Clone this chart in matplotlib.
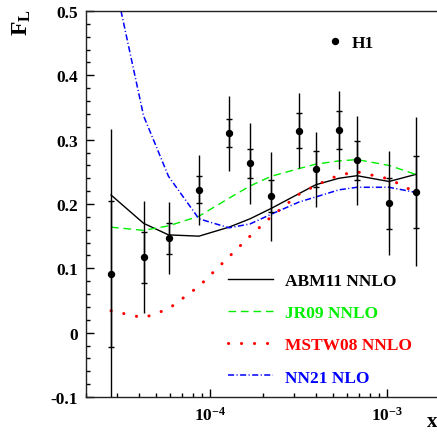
import numpy as np
import matplotlib
matplotlib.use("Agg")
import matplotlib.pyplot as plt
from matplotlib.ticker import FixedLocator, NullFormatter, MultipleLocator
from matplotlib.lines import Line2D

plt.rcParams['font.family'] = ['Liberation Serif', 'DejaVu Serif']
plt.rcParams['font.weight'] = 'bold'
plt.rcParams['mathtext.fontset'] = 'custom'
plt.rcParams['mathtext.bf'] = 'Liberation Serif:bold'
plt.rcParams['mathtext.rm'] = 'Liberation Serif:bold'
plt.rcParams['mathtext.it'] = 'Liberation Serif:bold'

# ---- data ----
x = [2.77e-5, 4.23e-5, 5.85e-5, 8.69e-5, 1.285e-4, 1.69e-4, 2.22e-4,
     3.19e-4, 3.98e-4, 5.37e-4, 6.79e-4, 1.03e-3, 1.46e-3]
fl = [0.091, 0.117, 0.147, 0.222, 0.310, 0.263, 0.212, 0.314, 0.254,
      0.315, 0.268, 0.201, 0.219]
stat = [0.114, 0.040, 0.024, 0.021, 0.022, 0.023, 0.025, 0.027, 0.028,
        0.029, 0.030, 0.040, 0.056]
tot = [0.225, 0.087, 0.056, 0.054, 0.058, 0.063, 0.069, 0.058, 0.058,
       0.061, 0.069, 0.081, 0.116]
abm11 = [0.214, 0.170, 0.152, 0.150, 0.164, 0.177, 0.193, 0.216, 0.230,
         0.240, 0.244, 0.235, 0.246]
jr09 = [0.164, 0.159, 0.166, 0.181, 0.209, 0.228, 0.243, 0.255, 0.262,
        0.267, 0.269, 0.260, 0.246]
mstw08 = [0.034, 0.023, 0.037, 0.072, 0.118, 0.150, 0.180, 0.215, 0.229,
          0.245, 0.250, 0.239, 0.218]
nn21 = [0.572, 0.337, 0.243, 0.177, 0.163, 0.169, 0.184, 0.203, 0.211,
        0.222, 0.226, 0.226, 0.218]
labels = ['ABM11 NNLO', 'JR09 NNLO', 'MSTW08 NNLO', 'NN21 NLO']
colors = ['black', '#00ee00', '#ff0000', '#0000ff']

fig = plt.figure(figsize=(4.37, 4.35), dpi=100)
W, H = 437, 435
ax = fig.add_axes([86 / W, (H - 398) / H, (440 - 86) / W, (398 - 12) / H])
ax.set_xscale('log')
ax.set_xlim(2e-5, 2e-3)
ax.set_ylim(-0.1, 0.5)

l1, = ax.plot(x, abm11, color=colors[0], lw=1.0, solid_joinstyle='miter')
l2, = ax.plot(x, jr09, color=colors[1], lw=1.0, linestyle=(0, (5.5, 3.5)))
l3, = ax.plot(x, mstw08, color=colors[2], lw=2.2, linestyle=(0, (0.05, 4.2)),
              dash_capstyle='round')
l4, = ax.plot(x, nn21, color=colors[3], lw=1.1,
              linestyle=(0, (4.0, 1.6, 0.7, 1.6)))

ax.errorbar(x, fl, yerr=tot, fmt='none', ecolor='black', elinewidth=1.0,
            capsize=0, zorder=5)
ax.errorbar(x, fl, yerr=stat, fmt='o', color='black', ms=4.3,
            elinewidth=1.0, capsize=2.0, capthick=1.0, zorder=6)

# ticks
ax.xaxis.set_major_locator(FixedLocator([1e-4, 1e-3]))
ax.set_xticklabels([r'$\mathbf{10^{-4}}$', r'$\mathbf{10^{-3}}$'])
minors = [m * 10.0 ** e for e in (-5, -4, -3) for m in range(2, 10)]
ax.xaxis.set_minor_locator(FixedLocator(minors))
ax.xaxis.set_minor_formatter(NullFormatter())
yt = [-0.1, 0.0, 0.1, 0.2, 0.3, 0.4, 0.5]
ax.set_yticks(yt)
ax.set_yticklabels(['-0.1', '0', '0.1', '0.2', '0.3', '0.4', '0.5'])
ax.yaxis.set_minor_locator(MultipleLocator(0.02))
ax.tick_params(which='major', direction='in', length=6, width=1.0,
               labelsize=12.5, top=False, right=False)
ax.tick_params(which='minor', direction='in', length=3.2, width=1.0,
               top=False, right=False)
ax.tick_params(axis='y', pad=6)
ax.tick_params(axis='x', pad=6)
for lab in ax.get_yticklabels():
    lab.set_fontweight('bold')
for sp in ax.spines.values():
    sp.set_linewidth(1.0)
    sp.set_color('#222222')

fig.text(22 / W, (H - 23) / H, r'$\mathbf{F_L}$', rotation=90, fontsize=17,
         ha='center', va='center')
fig.text(432 / W, (H - 422) / H, 'x', fontsize=15, fontweight='bold',
         ha='center', va='center')

leg = ax.legend([l1, l2, l3, l4], labels, loc='upper left',
                bbox_to_anchor=(228 / W, (H - 274) / H),
                bbox_transform=fig.transFigure, frameon=False, fontsize=12.5,
                handlelength=2.6, handletextpad=0.7, labelspacing=0.92,
                borderpad=0, borderaxespad=0)
for t, c in zip(leg.get_texts(), colors):
    t.set_color(c)
    t.set_fontweight('bold')
ax.add_artist(leg)

h1 = Line2D([], [], linestyle='none', marker='o', color='black', ms=4.3)
leg2 = ax.legend([h1], ['H1'], loc='center left',
                 bbox_to_anchor=(326 / W, (H - 44) / H),
                 bbox_transform=fig.transFigure, frameon=False, fontsize=12.5,
                 handlelength=1.0, handletextpad=0.5, borderpad=0,
                 borderaxespad=0)
for t in leg2.get_texts():
    t.set_fontweight('bold')

fig.savefig('out.png', dpi=100)
